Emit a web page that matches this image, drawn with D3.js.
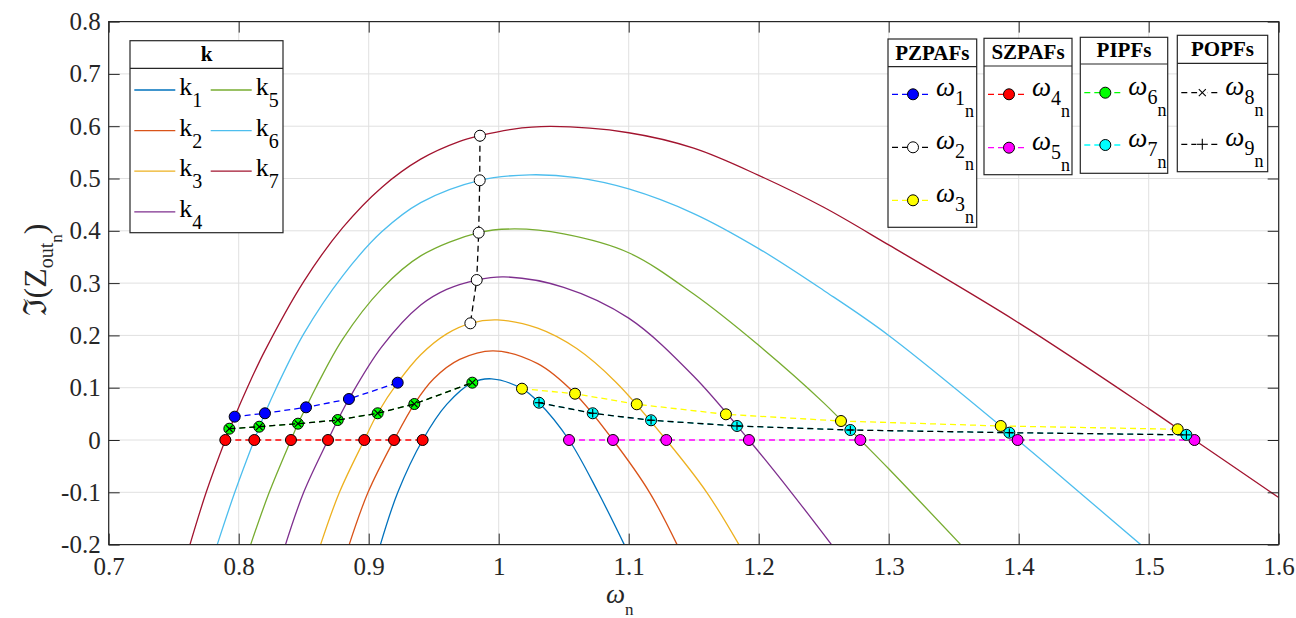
<!DOCTYPE html>
<html>
<head>
<meta charset="utf-8">
<script src="https://cdn.jsdelivr.net/npm/d3@7"></script>
<style>
  body { margin: 0; background: #fff; }
  svg text { font-family: 'Liberation Serif', 'Times New Roman', serif; }
</style>
</head>
<body>
<svg id="chart" width="1296" height="618"></svg>
<script>
// ---- data ----
const xTicks = [0.7, 0.8, 0.9, 1, 1.1, 1.2, 1.3, 1.4, 1.5, 1.6];
const yTicks = [-0.2, -0.1, 0, 0.1, 0.2, 0.3, 0.4, 0.5, 0.6, 0.7, 0.8];

const kNames = ['1', '2', '3', '4', '5', '6', '7'];
const kColors = ['#0072BD', '#D95319', '#EDB120', '#7E2F8E', '#77AC30', '#4DBEEE', '#A2142F'];

const k1 = [[0.909,-0.2],[0.9224,-0.1],[0.9415,0],[0.960,0.068],[0.9797,0.1096],[0.9945,0.117],[1.0179,0.0981],
  [1.031,0.0713],[1.0541,0],[1.0765,-0.1],[1.0966,-0.2]];
const k2 = [[0.885,-0.2],[0.8995,-0.1],[0.9195,0],[0.9351,0.0688],[0.95,0.117],[0.97,0.154],[0.9958,0.1705],
  [1.03,0.146],[1.0587,0.0885],[1.0879,0],[1.116,-0.1],[1.1372,-0.2]];
const k3 = [[0.863,-0.2],[0.8775,-0.1],[0.8966,0],[0.9069,0.0511],[0.9223,0.1096],[0.94,0.163],[0.96,0.203],
  [0.9782,0.2231],[0.999,0.2295],[1.03,0.2138],[1.06,0.1748],[1.09,0.111],[1.1289,0],[1.16,-0.1],[1.1848,-0.2]];
const k4 = [[0.836,-0.2],[0.850,-0.1],[0.8687,0],[0.8762,0.0382],[0.8848,0.0784],[0.91,0.178],[0.94,0.258],
  [0.96,0.288],[0.9831,0.3059],[1.004,0.312],[1.05,0.292],[1.1,0.233],[1.15,0.122],[1.1925,0],[1.225,-0.1],[1.256,-0.2]];
const k5 = [[0.8092,-0.2],[0.8235,-0.1],[0.8402,0],[0.8456,0.0312],[0.8518,0.0625],[0.8593,0.1],[0.88,0.193],
  [0.91,0.289],[0.94,0.352],[0.9846,0.3964],[1.012,0.4035],[1.05,0.394],[1.1,0.358],[1.15,0.279],[1.2,0.181],
  [1.25,0.071],[1.2782,0],[1.3,-0.055],[1.3554,-0.2]];
const k6 = [[0.7835,-0.2],[0.797,-0.1],[0.812,0],[0.8202,0.0511],[0.829,0.1],[0.85,0.203],[0.88,0.314],
  [0.91,0.398],[0.94,0.454],[0.9854,0.4966],[1.024,0.507],[1.06,0.5016],[1.1,0.48],[1.15,0.433],[1.2,0.366],
  [1.25,0.286],[1.3,0.2],[1.3992,0],[1.45,-0.107],[1.4938,-0.2]];
const k7 = [[0.7625,-0.2],[0.775,-0.1],[0.7897,0],[0.7969,0.0446],[0.8066,0.1],[0.82,0.170],[0.85,0.303],
  [0.88,0.406],[0.91,0.483],[0.94,0.537],[0.97,0.571],[0.9856,0.5818],[1.01,0.594],[1.04,0.5995],[1.1,0.5875],
  [1.15,0.558],[1.2,0.506],[1.25,0.445],[1.3,0.373],[1.4,0.224],[1.5,0.06],[1.5352,0],[1.6,-0.11]];
const kCurves = [k1, k2, k3, k4, k5, k6, k7];

// characteristic frequencies (x, y)
const w1 = [[0.7969,0.0446],[0.8202,0.0511],[0.8518,0.0625],[0.8848,0.0784],[0.9223,0.1096]];
const w2 = [[0.9856,0.5818],[0.9854,0.4966],[0.9846,0.3964],[0.9831,0.3059],[0.9782,0.2231]];
const w3 = [[1.0179,0.0981],[1.0587,0.0885],[1.1062,0.0683],[1.1748,0.0491],[1.2633,0.0363],[1.3862,0.0268],[1.5223,0.0205]];
const w4 = [[0.7897,0],[0.8120,0],[0.8402,0],[0.8687,0],[0.8966,0],[0.9195,0],[0.9415,0]];
const w5 = [[1.0541,0],[1.0879,0],[1.1289,0],[1.1925,0],[1.2782,0],[1.3992,0],[1.5352,0]];
const w6 = [[0.7928,0.0216],[0.8158,0.0254],[0.8456,0.0312],[0.8762,0.0382],[0.9069,0.0511],[0.9351,0.0688],[0.9797,0.1096]];
const w7 = [[1.0310,0.0713],[1.0723,0.0511],[1.1172,0.0377],[1.1833,0.0268],[1.2705,0.0191],[1.3928,0.0140],[1.5290,0.0098]];

// ---- layout ----
const FONT = "'Liberation Serif', 'Times New Roman', serif";
const svg = d3.select('#chart');
const margin = { left: 108.7, right: 1296 - 1278.7, top: 21.6, bottom: 618 - 544.6 };
const width = 1296 - margin.left - margin.right;
const height = 618 - margin.top - margin.bottom;

const x = d3.scaleLinear().domain([0.7, 1.6]).range([margin.left, margin.left + width]);
const y = d3.scaleLinear().domain([-0.2, 0.8]).range([margin.top + height, margin.top]);
const fmt = d => String(+d.toFixed(1));

svg.append('defs').append('clipPath').attr('id', 'plotclip')
  .append('rect').attr('x', margin.left).attr('y', margin.top).attr('width', width).attr('height', height);

// grid
const grid = svg.append('g').attr('stroke', '#e0e0e0').attr('stroke-width', 1);
grid.selectAll('line.gx').data(xTicks).join('line')
  .attr('x1', d => x(d)).attr('x2', d => x(d)).attr('y1', margin.top).attr('y2', margin.top + height);
grid.selectAll('line.gy').data(yTicks).join('line')
  .attr('y1', d => y(d)).attr('y2', d => y(d)).attr('x1', margin.left).attr('x2', margin.left + width);

// k curves
const line = d3.line().x(d => x(d[0])).y(d => y(d[1])).curve(d3.curveCatmullRom.alpha(0.5));
const curves = svg.append('g').attr('clip-path', 'url(#plotclip)');
curves.selectAll('path').data(kCurves).join('path')
  .attr('d', line).attr('fill', 'none').attr('stroke-width', 1.3)
  .attr('stroke', (d, i) => kColors[i]);

// axes: inward ticks on all four sides
function styleAxis(g) {
  g.attr('font-family', FONT);
  g.select('.domain').remove();
  g.selectAll('.tick line').attr('stroke', '#262626');
  g.selectAll('.tick text').attr('font-size', 25).attr('fill', '#262626').attr('font-family', FONT);
}
svg.append('g').attr('transform', `translate(0,${margin.top + height})`)
  .call(d3.axisBottom(x).tickValues(xTicks).tickFormat(fmt).tickSize(-11).tickSizeOuter(0).tickPadding(13))
  .call(styleAxis);
svg.append('g').attr('transform', `translate(${margin.left},0)`)
  .call(d3.axisLeft(y).tickValues(yTicks).tickFormat(fmt).tickSize(-11).tickSizeOuter(0).tickPadding(8))
  .call(styleAxis);
svg.append('g').attr('transform', `translate(0,${margin.top})`)
  .call(d3.axisTop(x).tickValues(xTicks).tickFormat('').tickSize(-11).tickSizeOuter(0))
  .call(styleAxis);
svg.append('g').attr('transform', `translate(${margin.left + width},0)`)
  .call(d3.axisRight(y).tickValues(yTicks).tickFormat('').tickSize(-11).tickSizeOuter(0))
  .call(styleAxis);
svg.append('rect').attr('x', margin.left).attr('y', margin.top).attr('width', width).attr('height', height)
  .attr('fill', 'none').attr('stroke', '#262626').attr('stroke-width', 1.2);

// marker series
const straight = d3.line().x(d => x(d[0])).y(d => y(d[1]));
function dashed(data, color) {
  svg.append('path').attr('d', straight(data)).attr('fill', 'none')
    .attr('stroke', color).attr('stroke-width', 1.3).attr('stroke-dasharray', '6,4');
}
function dots(data, fill) {
  svg.append('g').selectAll('circle').data(data).join('circle')
    .attr('cx', d => x(d[0])).attr('cy', d => y(d[1])).attr('r', 5.5)
    .attr('fill', fill).attr('stroke', '#000').attr('stroke-width', 1);
}
function crosses(data, plus, s) {
  const g = svg.append('g').attr('stroke', '#000').attr('stroke-width', 1.1);
  data.forEach(d => {
    const cx = x(d[0]), cy = y(d[1]);
    if (plus) {
      g.append('line').attr('x1', cx - s).attr('x2', cx + s).attr('y1', cy).attr('y2', cy);
      g.append('line').attr('x1', cx).attr('x2', cx).attr('y1', cy - s).attr('y2', cy + s);
    } else {
      g.append('line').attr('x1', cx - s).attr('x2', cx + s).attr('y1', cy - s).attr('y2', cy + s);
      g.append('line').attr('x1', cx - s).attr('x2', cx + s).attr('y1', cy + s).attr('y2', cy - s);
    }
  });
}
dashed(w1, '#0000ff'); dots(w1, '#0000ff');
dashed(w2, '#000'); dots(w2, '#fff');
dashed(w3, '#ffff00'); dots(w3, '#ffff00');
dashed(w4, '#ff0000'); dots(w4, '#ff0000');
dashed(w5, '#ff00ff'); dots(w5, '#ff00ff');
dashed(w6, '#00ff00'); dots(w6, '#00ff00');
dashed(w7, '#00ffff'); dots(w7, '#00ffff');
dashed(w6, '#000'); crosses(w6, false, 3.3);
dashed(w7, '#000'); crosses(w7, true, 4.3);

// axis labels
const xl = svg.append('text').attr('x', 606).attr('y', 603).attr('font-size', 27)
  .attr('font-family', FONT).attr('fill', '#262626');
xl.append('tspan').attr('font-style', 'italic').text('ω');
xl.append('tspan').attr('font-size', 17).attr('dy', 12).text('n');

const yl = svg.append('text').attr('transform', 'translate(46,270) rotate(-90)')
  .attr('text-anchor', 'middle').attr('font-size', 32).attr('font-family', FONT).attr('fill', '#262626');
yl.append('tspan').text('ℑ(Z');
yl.append('tspan').attr('font-size', 20).attr('dy', 7).text('out');
yl.append('tspan').attr('font-size', 17).attr('dy', 9).text('n');
yl.append('tspan').attr('dy', -16).text(')');

// legend helpers
function box(l, r, t, sep, b, title) {
  const g = svg.append('g').attr('font-family', FONT);
  g.append('rect').attr('x', l).attr('y', t).attr('width', r - l).attr('height', b - t)
    .attr('fill', '#fff').attr('stroke', '#262626').attr('stroke-width', 1.2);
  g.append('line').attr('x1', l).attr('x2', r).attr('y1', sep).attr('y2', sep)
    .attr('stroke', '#262626').attr('stroke-width', 1.2);
  g.append('text').attr('x', (l + r) / 2).attr('y', sep - 7).attr('text-anchor', 'middle')
    .attr('font-family', FONT).attr('font-weight', 'bold').attr('font-size', 21).attr('fill', '#000').text(title);
  return g;
}

// k legend
const kl = box(130, 283, 40.7, 68.3, 232.7, 'k');
kNames.forEach((nm, i) => {
  const col = i < 4 ? 0 : 1, row = i < 4 ? i : i - 4;
  const lx = 134.3 + col * 76.4, cy = 90 + row * 40.6;
  kl.append('line').attr('x1', lx).attr('x2', lx + 41).attr('y1', cy).attr('y2', cy)
    .attr('stroke', kColors[i]).attr('stroke-width', 1.3);
  const t = kl.append('text').attr('x', lx + 45).attr('y', cy + 5).attr('font-size', 26)
    .attr('font-family', FONT).attr('fill', '#000');
  t.append('tspan').text('k');
  t.append('tspan').attr('font-size', 20).attr('dy', 12).text(nm);
});

// omega legends
const wLegends = [
  { title: 'PZPAFs', l: 888, r: 976.7, t: 39, sep: 66.7, b: 227.3, y0: 94.3, dy: 53,
    items: [['1', '#0000ff', '#0000ff', 'o'], ['2', '#000', '#fff', 'o'], ['3', '#ffff00', '#ffff00', 'o']] },
  { title: 'SZPAFs', l: 984, r: 1072, t: 38.3, sep: 66, b: 174.7, y0: 94.3, dy: 53.4,
    items: [['4', '#ff0000', '#ff0000', 'o'], ['5', '#ff00ff', '#ff00ff', 'o']] },
  { title: 'PIPFs', l: 1080.3, r: 1167.7, t: 37.3, sep: 64, b: 173.3, y0: 92.7, dy: 52.3,
    items: [['6', '#00ff00', '#00ff00', 'o'], ['7', '#00ffff', '#00ffff', 'o']] },
  { title: 'POPFs', l: 1177.3, r: 1267.7, t: 35.3, sep: 63.3, b: 171.7, y0: 92.7, dy: 51.6,
    items: [['8', '#000', null, 'x'], ['9', '#000', null, '+']] }
];
wLegends.forEach(L => {
  const g = box(L.l, L.r, L.t, L.sep, L.b, L.title);
  L.items.forEach((it, j) => {
    const cy = L.y0 + j * L.dy, x0 = L.l + 4, mx = L.l + 25;
    g.append('line').attr('x1', x0).attr('x2', x0 + 40).attr('y1', cy).attr('y2', cy)
      .attr('stroke', it[1]).attr('stroke-width', 1.3).attr('stroke-dasharray', '6,4');
    if (it[3] === 'o') {
      g.append('circle').attr('cx', mx).attr('cy', cy).attr('r', 5.5)
        .attr('fill', it[2]).attr('stroke', '#000').attr('stroke-width', 1);
    } else {
      const m = g.append('g').attr('stroke', '#000').attr('stroke-width', 1.1);
      if (it[3] === 'x') {
        const s = 3.5;
        m.append('rect').attr('x', mx - 5).attr('y', cy - 5).attr('width', 10).attr('height', 10).attr('fill', '#fff').attr('stroke', 'none');
        m.append('line').attr('x1', mx - s).attr('x2', mx + s).attr('y1', cy - s).attr('y2', cy + s);
        m.append('line').attr('x1', mx - s).attr('x2', mx + s).attr('y1', cy + s).attr('y2', cy - s);
      } else {
        const s = 5.5;
        m.append('rect').attr('x', mx - 6).attr('y', cy - 6).attr('width', 12).attr('height', 12).attr('fill', '#fff').attr('stroke', 'none');
        m.append('line').attr('x1', mx - s).attr('x2', mx + s).attr('y1', cy).attr('y2', cy);
        m.append('line').attr('x1', mx).attr('x2', mx).attr('y1', cy - s).attr('y2', cy + s);
      }
    }
    const t = g.append('text').attr('x', L.l + 48).attr('y', cy + 2).attr('font-size', 27)
      .attr('font-family', FONT).attr('fill', '#000');
    t.append('tspan').attr('font-style', 'italic').text('ω');
    t.append('tspan').attr('font-size', 20).attr('dy', 9).text(it[0]);
    t.append('tspan').attr('font-size', 18).attr('dy', 12).text('n');
  });
});
</script>
</body>
</html>
